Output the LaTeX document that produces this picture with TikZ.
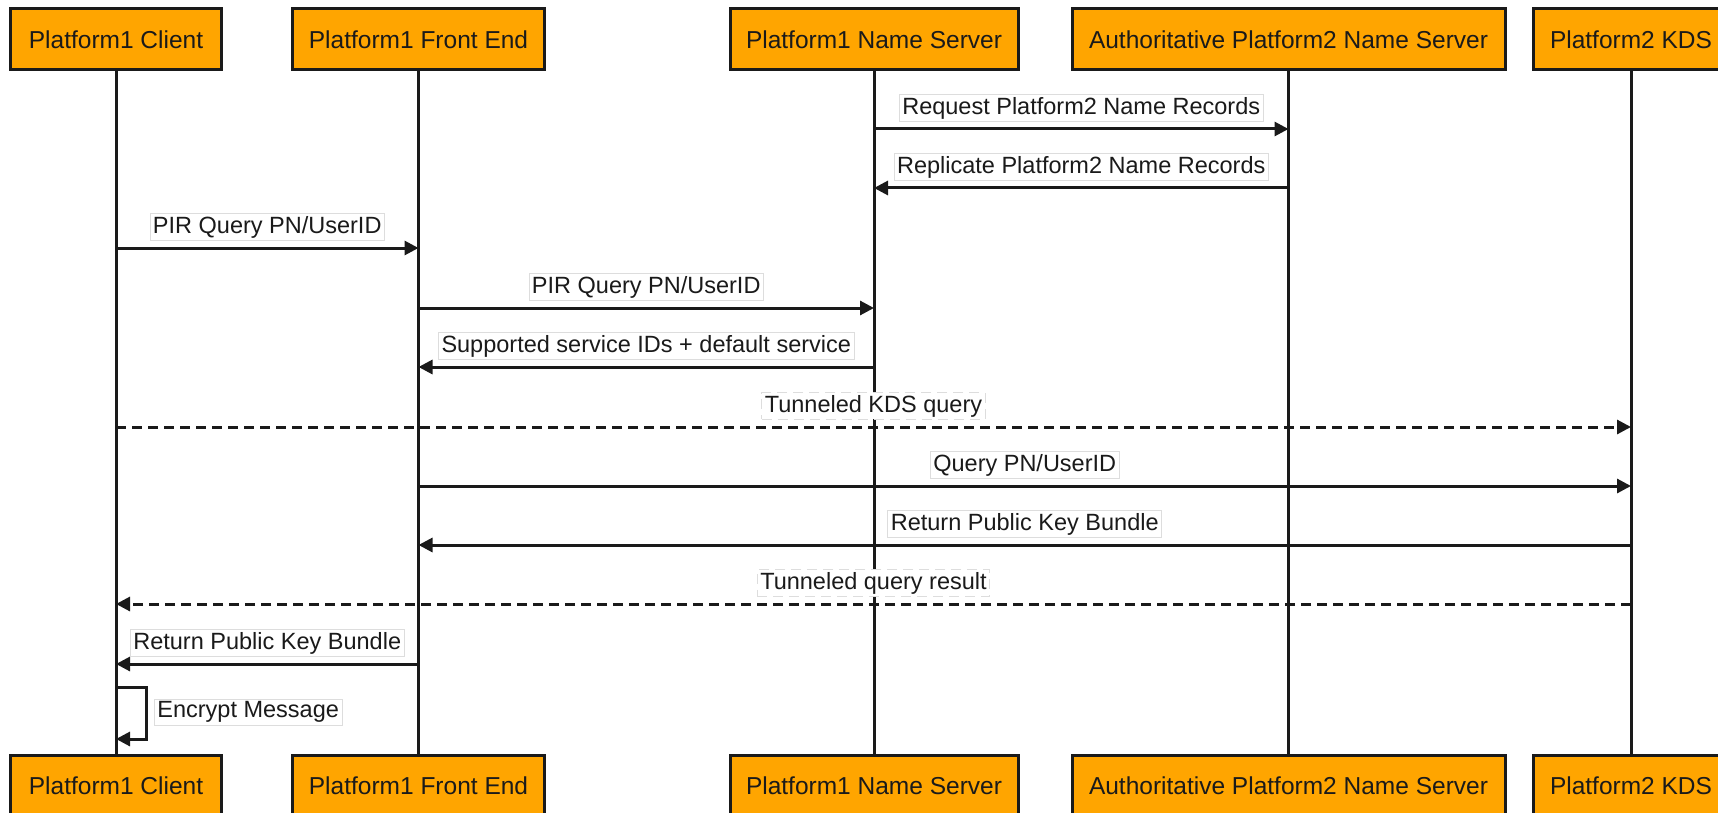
\documentclass[tikz,border=0pt]{standalone}
\usepackage{fontspec}
\setmainfont{Liberation Sans}
\usetikzlibrary{arrows.meta}
\definecolor{actorfill}{HTML}{FFA500}
\definecolor{labelrule}{HTML}{DDDDDD}
\definecolor{ink}{HTML}{1A1A1A}
\tikzset{
  actor/.style={draw=ink, fill=actorfill, line width=3pt, minimum height=61pt,
    inner xsep=4pt, font=\fontsize{24.5}{28}\selectfont, text=ink},
  lifeline/.style={draw=ink, line width=3pt},
  msglabel/.style={fill=white, draw=labelrule, line width=0.8pt, inner xsep=3pt,
    inner ysep=2.5pt, font=\fontsize{23.5}{27}\selectfont, text=ink},
  msg/.style={draw=ink, line width=3pt, -{Triangle[length=14pt,width=14pt]}},
  tunnel/.style={msg, dash pattern=on 10pt off 6pt},
}
\begin{document}
\begin{tikzpicture}[x=1pt, y=-1pt]
\useasboundingbox (0,0) rectangle (1718,813);

% participants, top row
\node[actor, minimum width=211pt] (c1)   at (116,39.5)    {Platform1 Client};
\node[actor, minimum width=252pt] (fe)   at (418.5,39.5)  {Platform1 Front End};
\node[actor, minimum width=288pt] (ns)   at (874,39.5)    {Platform1 Name Server};
\node[actor, minimum width=433pt] (auth) at (1288.5,39.5) {Authoritative Platform2 Name Server};
\node[actor, minimum width=196pt] (kds)  at (1631,39.5)   {Platform2 KDS};

% participants, bottom row
\node[actor, minimum width=211pt] (c1b)   at (116,785.5)    {Platform1 Client};
\node[actor, minimum width=252pt] (feb)   at (418.5,785.5)  {Platform1 Front End};
\node[actor, minimum width=288pt] (nsb)   at (874,785.5)    {Platform1 Name Server};
\node[actor, minimum width=433pt] (authb) at (1288.5,785.5) {Authoritative Platform2 Name Server};
\node[actor, minimum width=196pt] (kdsb)  at (1631,785.5)   {Platform2 KDS};

% lifelines
\draw[lifeline] (c1.south) -- (c1b.north);
\draw[lifeline] (fe.south) -- (feb.north);
\draw[lifeline] (ns.south) -- (nsb.north);
\draw[lifeline] (auth.south) -- (authb.north);
\draw[lifeline] (kds.south) -- (kdsb.north);

% message rows
\coordinate (r1) at (0,129);
\coordinate (r2) at (0,188);
\coordinate (r3) at (0,248);
\coordinate (r4) at (0,308);
\coordinate (r5) at (0,367);
\coordinate (r6) at (0,427);
\coordinate (r7) at (0,486);
\coordinate (r8) at (0,545);
\coordinate (r9) at (0,604);
\coordinate (r10) at (0,664);
\coordinate (r11a) at (0,687);
\coordinate (r11b) at (0,739);

\draw[msg] (ns |- r1) -- (auth |- r1)
  node[msglabel, midway, yshift=21pt] (l1) {Request Platform2 Name Records};
\draw[msg] (auth |- r2) -- (ns |- r2)
  node[msglabel, midway, yshift=21pt] (l2) {Replicate Platform2 Name Records};
\draw[msg] (c1 |- r3) -- (fe |- r3)
  node[msglabel, midway, yshift=21pt] (l3) {PIR Query PN/UserID};
\draw[msg] (fe |- r4) -- (ns |- r4)
  node[msglabel, midway, yshift=21pt] (l4) {PIR Query PN/UserID};
\draw[msg] (ns |- r5) -- (fe |- r5)
  node[msglabel, midway, yshift=21pt] (l5) {Supported service IDs + default service};
\draw[tunnel] (c1 |- r6) -- (kds |- r6)
  node[msglabel, midway, yshift=21pt] (l6) {Tunneled KDS query};
\draw[msg] (fe |- r7) -- (kds |- r7)
  node[msglabel, midway, yshift=21pt] (l7) {Query PN/UserID};
\draw[msg] (kds |- r8) -- (fe |- r8)
  node[msglabel, midway, yshift=21pt] (l8) {Return Public Key Bundle};
\draw[tunnel] (kds |- r9) -- (c1 |- r9)
  node[msglabel, midway, yshift=21pt] (l9) {Tunneled query result};
\draw[msg] (fe |- r10) -- (c1 |- r10)
  node[msglabel, midway, yshift=21pt] (l10) {Return Public Key Bundle};

% self message on the client
\draw[msg] (c1 |- r11a) -- ++(30,0) |- (c1 |- r11b);
\node[msglabel, anchor=west] (l11) at (154,712) {Encrypt Message};
\end{tikzpicture}
\end{document}
